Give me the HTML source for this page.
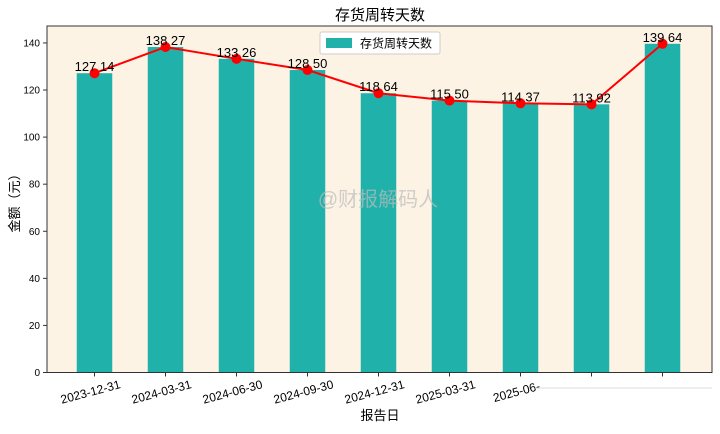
<!DOCTYPE html>
<html><head><meta charset="utf-8"><style>
body{margin:0;background:#fff;}
svg text{font-family:"Liberation Sans","Noto Sans CJK SC",sans-serif;}
</style></head><body>
<svg id="chart" width="720" height="429" xmlns="http://www.w3.org/2000/svg">
<rect x="0" y="0" width="720" height="429" fill="#fff"/>
<rect x="47" y="26" width="665" height="346.5" fill="#fdf3e5"/>
<g id="bars"></g><g id="line"></g><g id="labels"></g><g id="axes"></g>
<text x="380" y="20" text-anchor="middle" font-size="15" fill="#000">存货周转天数</text>
<text x="380" y="420" text-anchor="middle" font-size="13" fill="#000">报告日</text>
<text transform="translate(19,200) rotate(-90)" text-anchor="middle" font-size="13" fill="#000">金额（元）</text>
<text x="378" y="206" text-anchor="middle" font-size="20" fill="#bbb" opacity="0.7">@财报解码人</text>
<g>
<rect x="320" y="32" width="120" height="22" fill="#fff" stroke="#ccc" rx="2"/>
<rect x="326" y="38" width="26" height="10" fill="#20b2aa"/>
<text x="360" y="47.5" font-size="12" fill="#000">存货周转天数</text>
</g>
<line x1="535" y1="388" x2="712" y2="388" stroke="#ddd" stroke-width="1"/>
</svg>
<script>
const categories=["2023-12-31","2024-03-31","2024-06-30","2024-09-30","2024-12-31","2025-03-31","2025-06-30","2025-09-30","2025-12-31"];
const tickLabels=["2023-12-31","2024-03-31","2024-06-30","2024-09-30","2024-12-31","2025-03-31","2025-06-","",""];
const values=[127.14,138.27,133.26,128.50,118.64,115.50,114.37,113.92,139.64];
const yTicks=[0,20,40,60,80,100,120,140];
const NS="http://www.w3.org/2000/svg";
const x0=47,x1=712,y0=372.5,ymax=147.2,yTop=26;
function xs(i){return 94.5+i*71;}
function ys(v){return y0-(v/ymax)*(y0-yTop);}
function mk(t,a,p){const e=document.createElementNS(NS,t);for(const k in a)e.setAttribute(k,a[k]);p.appendChild(e);return e;}
const bars=document.getElementById('bars'),line=document.getElementById('line'),labels=document.getElementById('labels'),axes=document.getElementById('axes');
values.forEach((v,i)=>{
 const r=mk('rect',{x:xs(i)-17.75,y:ys(v),width:35.5,height:y0-ys(v),fill:'#20b2aa'},bars);
 
 
});
const pts=values.map((v,i)=>xs(i)+','+ys(v)).join(' ');
const pl=mk('polyline',{points:pts,fill:'none',stroke:'#ff0000','stroke-width':2},line);


values.forEach((v,i)=>{
 const c=mk('circle',{cx:xs(i),cy:ys(v),r:5,fill:'#ff0000'},line);
 
 
 const t=mk('text',{x:xs(i),y:ys(v)-2,'text-anchor':'middle','font-size':13,fill:'#000'},labels);
 t.textContent=v.toFixed(2).replace('.',' ');
 
 
});
mk('rect',{x:x0,y:yTop,width:x1-x0,height:y0-yTop,fill:'none',stroke:'#333','stroke-width':1},axes);
yTicks.forEach(v=>{
 mk('line',{x1:x0-4,x2:x0,y1:ys(v),y2:ys(v),stroke:'#333'},axes);
 const t=mk('text',{x:x0-7,y:ys(v)+3.5,'text-anchor':'end','font-size':10,fill:'#000'},axes);
 t.textContent=v;
 
 
});
tickLabels.forEach((l,i)=>{
 mk('line',{x1:xs(i),x2:xs(i),y1:y0,y2:y0+4,stroke:'#333'},axes);
 if(!l)return;
 const cx=xs(i)-4;
 const t=mk('text',{x:cx,y:396,'text-anchor':'middle','font-size':12,fill:'#000',transform:'rotate(-15 '+cx+' 392)'},axes);
 t.textContent=l;
 
 
});
</script>
</body></html>
